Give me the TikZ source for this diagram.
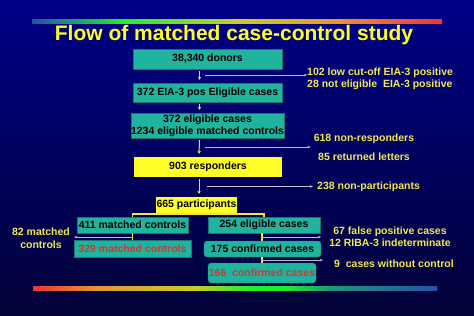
\documentclass[tikz,border=0pt]{standalone}
\usepackage{fontspec}
\setmainfont{Liberation Sans}
\usetikzlibrary{arrows.meta}
\definecolor{bgtop}{RGB}{0,0,135}
\definecolor{bgbot}{RGB}{2,2,55}
\definecolor{tealbox}{RGB}{32,180,158}
\definecolor{tealdark}{RGB}{20,120,110}
\definecolor{ybox}{RGB}{255,255,40}
\definecolor{ytext}{RGB}{240,232,80}
\definecolor{ttl}{RGB}{255,255,30}
\definecolor{rtext}{RGB}{205,55,50}
\definecolor{garrow}{RGB}{190,190,205}
\definecolor{yline}{RGB}{240,230,60}
% bar colours
\definecolor{cblue}{RGB}{40,80,170}
\definecolor{cgreen}{RGB}{30,240,40}
\definecolor{cyell}{RGB}{200,205,40}
\definecolor{corange}{RGB}{230,150,50}
\definecolor{cred}{RGB}{240,50,50}
\definecolor{cteal}{RGB}{30,150,120}
\pgfdeclarehorizontalshading{topbar}{100bp}{color(0bp)=(cblue); color(25bp)=(cblue); color(36bp)=(cgreen); color(50bp)=(cyell); color(62bp)=(corange); color(75bp)=(cred); color(100bp)=(cred)}
\pgfdeclarehorizontalshading{botbar}{100bp}{color(0bp)=(cred); color(25bp)=(cred); color(33bp)=(corange); color(45bp)=(cyell); color(52bp)=(cgreen); color(56bp)=(cgreen); color(62bp)=(cteal); color(75bp)=(cblue); color(100bp)=(cblue)}
\tikzset{
  box/.style={rectangle, inner sep=0pt, font=\bfseries\fontsize{10.5}{12}\selectfont, text=black},
  tbox/.style={box, fill=tealbox, draw=tealdark, line width=0.4pt},
  ybx/.style={box, fill=ybox},
  side/.style={text=ytext, inner sep=0pt, font=\bfseries\fontsize{10.5}{12}\selectfont},
  darr/.style={draw=yline, line width=1pt, -{Stealth[length=3pt,width=3.5pt]}, shorten <=2pt, shorten >=3pt},
  garr/.style={draw=garrow, line width=0.6pt, -{Stealth[length=3pt,width=2.5pt]}},
  yconn/.style={draw=yline, line width=1.5pt}
}
\begin{document}
\begin{tikzpicture}[x=1pt,y=-1pt]
\useasboundingbox (0,0) rectangle (474,316);
\shade[top color=bgtop, bottom color=bgbot] (0,0) rectangle (474,316);
\shade[shading=topbar] (32,19) rectangle (442,23);
\shade[shading=botbar] (33,286) rectangle (437,290);

\node[text=ttl, font=\bfseries\fontsize{21}{24}\selectfont] (title) at (234,35) {Flow of matched case-control study};

% main column
\node[tbox, minimum width=149pt, minimum height=20pt] (b1) at (207.5,59) {38,340 donors};
\node[tbox, minimum width=149pt, minimum height=19pt] (b2) at (207.5,92.5) {372 EIA-3 pos Eligible cases};
\node[tbox, minimum width=149pt, minimum height=25pt, align=center] (b3) at (207.5,125.5) {372 eligible cases\\1234 eligible matched controls};
\node[ybx, minimum width=148pt, minimum height=20pt] (b4) at (208,167) {903 responders};
\node[ybx, minimum width=81pt, minimum height=16pt] (b5) at (196.5,205) {665 participants};

% split
\node[tbox, minimum width=111pt, minimum height=16pt] (b6) at (132.5,225) {411 matched controls};
\node[tbox, minimum width=112pt, minimum height=16pt] (b7) at (264,225) {254 eligible cases};
\node[tbox, minimum width=117pt, minimum height=17pt, text=rtext] (b8) at (132.5,248.5) {329 matched controls};
\node[tbox, minimum width=117pt, minimum height=16pt, rounded corners=3pt] (b9) at (262.5,249) {175 confirmed cases};
\node[tbox, minimum width=108pt, minimum height=20pt, rounded corners=3pt, text=rtext] (b10) at (262,273) {166\ \ confirmed cases};

% side texts
\node[side, anchor=west, align=left] (t1) at (307,79) {102 low cut-off EIA-3 positive\\28 not eligible\ \ EIA-3 positive};
\node[side, align=center] (t2) at (364,147.5) {618 non-responders\\[7pt]85 returned letters};
\node[side, anchor=west] (t3) at (317,187) {238 non-participants};
\node[side, align=center] (t82) at (41,238.5) {82 matched\\[1pt]controls};
\node[side, align=center] (t67) at (390,237) {67 false positive cases\\12 RIBA-3 indeterminate};
\node[side, anchor=west] (t9) at (334,264) {9\ \ cases without control};

% down arrows
\draw[darr] ([xshift=-8pt]b1.south) -- ([xshift=-8pt]b2.north);
\draw[darr] ([xshift=-8pt]b2.south) -- ([xshift=-8pt]b3.north);
\draw[darr] ([xshift=-8pt]b3.south) -- ([xshift=-9pt]b4.north);
\draw[darr] ([xshift=-9pt]b4.south) -- ([xshift=2.5pt]b5.north);

% side arrows
\coordinate (s1) at (205,75);
\coordinate (s2) at (205,147);
\coordinate (s3) at (207,186.5);
\draw[garr] (s1) -- (t1.west |- s1);
\draw[garr, shorten >=3pt] (s2) -- (t2.west |- s2);
\draw[garr, shorten >=4pt] (s3) -- (t3.west |- s3);

% bracket
\draw[yconn] (b5.south) -- ++(0,1.5);
\draw[yconn] (b6.north) -- ++(0,-3) -| (b7.north);

% left branch
\coordinate (c82) at (132.5,237);
\draw[yconn] (b6.south) -- (b8.north);
\draw[garr, shorten >=4pt] (c82) -- (t82.east |- c82);

% right branch
\coordinate (c67) at (262,237);
\coordinate (c9) at (262,260);
\draw[yconn] ([xshift=-2pt]b7.south) -- ([xshift=-0.5pt]b9.north);
\draw[yconn] ([xshift=-0.5pt]b9.south) -- (b10.north);
\draw[garr, shorten >=8pt] (c67) -- (t67.west |- c67);
\draw[garr, shorten >=11pt] (c9) -- (t9.west |- c9);
\end{tikzpicture}
\end{document}
